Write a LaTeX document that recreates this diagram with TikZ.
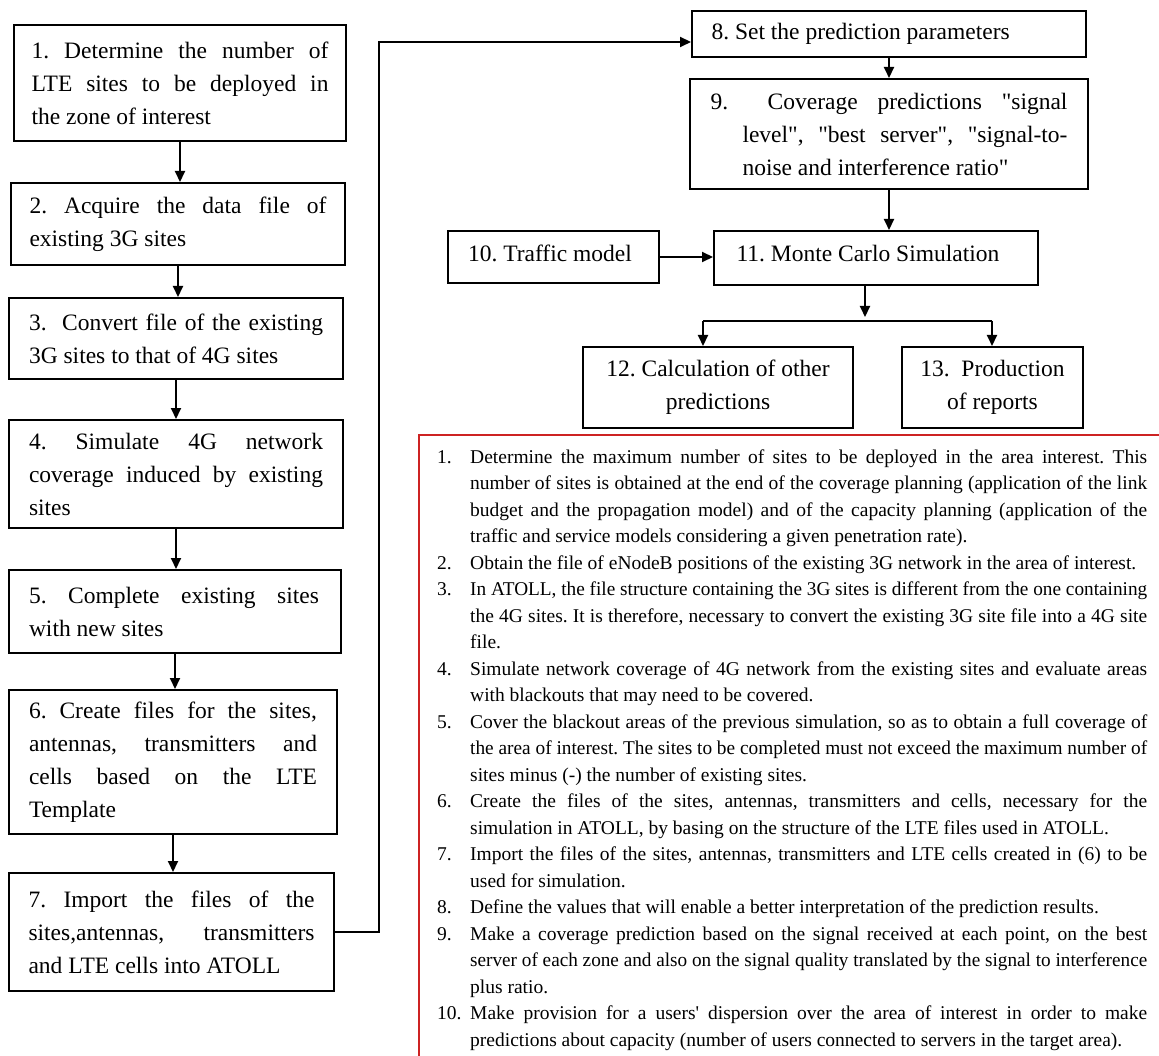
\documentclass[tikz,border=0pt]{standalone}
\usepackage{fontspec}
\setmainfont{Liberation Serif}[Ligatures=TeXOff]
\usepackage{graphicx}
\usetikzlibrary{arrows.meta}
\frenchspacing
\newlength\tw
\newcommand\jw[2]{\setlength\tw{#1}\sbox0{#2}\ifdim\wd0>\tw\resizebox{\tw}{\height}{#2}\else\makebox[\tw][s]{#2}\fi}
\newcommand\lw[2]{\setlength\tw{#1}\sbox0{#2}\ifdim\wd0>\tw\resizebox{\tw}{\height}{#2}\else\makebox[\tw][l]{#2}\fi}
\newcommand\cw[2]{\setlength\tw{#1}\sbox0{#2}\ifdim\wd0>\tw\resizebox{\tw}{\height}{#2}\else\makebox[\tw][c]{#2}\fi}
\newcommand\lab[1]{\makebox[33pt][l]{#1}}
\newcommand\nol{\hspace*{33pt}}
\newcommand\ff{\fontsize{23.5}{33}\selectfont\frenchspacing}
\definecolor{frame}{RGB}{205,35,35}
\begin{document}
\begin{tikzpicture}[x=1pt,y=-1pt,
  fbox/.style={draw, line width=2pt, inner sep=0pt, anchor=north west},
  arr/.style={line width=2pt, -{Triangle[length=11pt,width=10pt]}},
  conn/.style={line width=2pt},
  redline/.style={draw=frame, line width=2pt}]
\useasboundingbox (0,0) rectangle (1159,1056);

% left column
\node[fbox, minimum width=332pt, minimum height=116pt] (b1) at (13,24)
 {\parbox{297pt}{\ff\jw{297pt}{1. Determine the number of}\\\jw{297pt}{LTE sites to be deployed in}\\\lw{297pt}{the zone of interest}}};
\node[fbox, minimum width=334pt, minimum height=82pt] (b2) at (10,182)
 {\parbox{297pt}{\ff\jw{297pt}{2. Acquire the data file of}\\\lw{297pt}{existing 3G sites}}};
\node[fbox, minimum width=334pt, minimum height=81pt] (b3) at (8,297)
 {\parbox{294pt}{\ff\jw{294pt}{3.~ Convert file of the existing}\\\lw{294pt}{3G sites to that of 4G sites}}};
\node[fbox, minimum width=334pt, minimum height=108pt] (b4) at (8,419)
 {\parbox{294pt}{\ff\jw{294pt}{4. Simulate 4G network}\\\jw{294pt}{coverage induced by existing}\\\lw{294pt}{sites}}};
\node[fbox, minimum width=332pt, minimum height=83pt] (b5) at (8,569)
 {\parbox{292pt}{\ff\jw{290pt}{5. Complete existing sites}\\\lw{290pt}{with new sites}}};
\node[fbox, minimum width=328pt, minimum height=144pt] (b6) at (8,689)
 {\parbox{288pt}{\ff\jw{288pt}{6. Create files for the sites,}\\\jw{288pt}{antennas, transmitters and}\\\jw{288pt}{cells based on the LTE}\\\lw{288pt}{Template}}};
\node[fbox, minimum width=325pt, minimum height=118pt] (b7) at (8,872)
 {\parbox{286pt}{\ff\jw{286pt}{7. Import the files of the}\\\jw{286pt}{sites,antennas, transmitters}\\\lw{286pt}{and LTE cells into ATOLL}}};

% right part
\node[fbox, minimum width=394pt, minimum height=46pt] (b8) at (691,10)
 {\parbox{355pt}{\ff\lw{355pt}{8. Set the prediction parameters}}};
\node[fbox, minimum width=398pt, minimum height=110pt] (b9) at (689,78)
 {\parbox{357pt}{\ff\jw{357pt}{9.~ Coverage predictions "signal}\\\hspace*{32pt}\jw{325pt}{level", "best server", "signal-to-}\\\hspace*{32pt}\lw{325pt}{noise and interference ratio"}}};
\node[fbox, minimum width=211pt, minimum height=52pt] (b10) at (447,230)
 {\parbox[c][24pt][t]{171pt}{\ff\lw{171pt}{10. Traffic model}}};
\node[fbox, minimum width=324pt, minimum height=54pt] (b11) at (713,230)
 {\parbox[c][26pt][t]{279pt}{\ff\lw{279pt}{11. Monte Carlo Simulation}}};
\node[fbox, minimum width=270pt, minimum height=81pt] (b12) at (582,346)
 {\parbox{250pt}{\ff\cw{250pt}{12. Calculation of other}\\\cw{250pt}{predictions}}};
\node[fbox, minimum width=181pt, minimum height=81pt] (b13) at (901,346)
 {\parbox{165pt}{\ff\cw{165pt}{13.~ Production}\\\cw{165pt}{of reports}}};

% connectors
\draw[arr] (b1.south) -- (b1.south |- b2.north);
\draw[arr] (b2.south) -- (b2.south |- b3.north);
\draw[arr] (b3.south) -- (b3.south |- b4.north);
\draw[arr] (b4.south) -- (b4.south |- b5.north);
\draw[arr] (b5.south) -- (b5.south |- b6.north);
\draw[arr] (b6.south) -- (b6.south |- b7.north);
\draw[arr] (b7.east) -- ++(44,0) |- ([yshift=-8pt]b8.west);
\draw[arr] (b8.south) -- (b8.south |- b9.north);
\draw[arr] (b9.south) -- (b9.south |- b11.north);
\draw[arr] (b10.east) -- (b11.west |- b10.east);
\coordinate (j) at (865,321);
\coordinate (jl) at (703,321);
\coordinate (jr) at (992,321);
\draw[arr] (j |- b11.south) -- ([yshift=4pt]j);
\draw[conn] (jl) -- (jr);
\draw[arr] (jl) -- (jl |- b12.north);
\draw[arr] (jr) -- (jr |- b13.north);

% notes frame
\draw[redline] (419,1056) -- (419,435) -- (1159,435);
\node[anchor=base west, inner sep=0pt] (notes) at (437,463) {\parbox[t]{710pt}{\fontsize{19.5}{26.5}\selectfont\frenchspacing
\lab{1.}\jw{677pt}{Determine the maximum number of sites to be deployed in the area interest. This}\\
\nol\jw{677pt}{number of sites is obtained at the end of the coverage planning (application of the link}\\
\nol\jw{677pt}{budget and the propagation model) and of the capacity planning (application of the}\\
\nol\lw{677pt}{traffic and service models considering a given penetration rate).}\\
\lab{2.}\lw{677pt}{Obtain the file of eNodeB positions of the existing 3G network in the area of interest.}\\
\lab{3.}\jw{677pt}{In ATOLL, the file structure containing the 3G sites is different from the one containing}\\
\nol\jw{677pt}{the 4G sites. It is therefore, necessary to convert the existing 3G site file into a 4G site}\\
\nol\lw{677pt}{file.}\\
\lab{4.}\jw{677pt}{Simulate network coverage of 4G network from the existing sites and evaluate areas}\\
\nol\lw{677pt}{with blackouts that may need to be covered.}\\
\lab{5.}\jw{677pt}{Cover the blackout areas of the previous simulation, so as to obtain a full coverage of}\\
\nol\jw{677pt}{the area of interest. The sites to be completed must not exceed the maximum number of}\\
\nol\lw{677pt}{sites minus (-) the number of existing sites.}\\
\lab{6.}\jw{677pt}{Create the files of the sites, antennas, transmitters and cells, necessary for the}\\
\nol\lw{677pt}{simulation in ATOLL, by basing on the structure of the LTE files used in ATOLL.}\\
\lab{7.}\jw{677pt}{Import the files of the sites, antennas, transmitters and LTE cells created in (6) to be}\\
\nol\lw{677pt}{used for simulation.}\\
\lab{8.}\lw{677pt}{Define the values that will enable a better interpretation of the prediction results.}\\
\lab{9.}\jw{677pt}{Make a coverage prediction based on the signal received at each point, on the best}\\
\nol\jw{677pt}{server of each zone and also on the signal quality translated by the signal to interference}\\
\nol\lw{677pt}{plus ratio.}\\
\lab{10.}\jw{677pt}{Make provision for a users' dispersion over the area of interest in order to make}\\
\nol\lw{677pt}{predictions about capacity (number of users connected to servers in the target area).}}};
\end{tikzpicture}
\end{document}
